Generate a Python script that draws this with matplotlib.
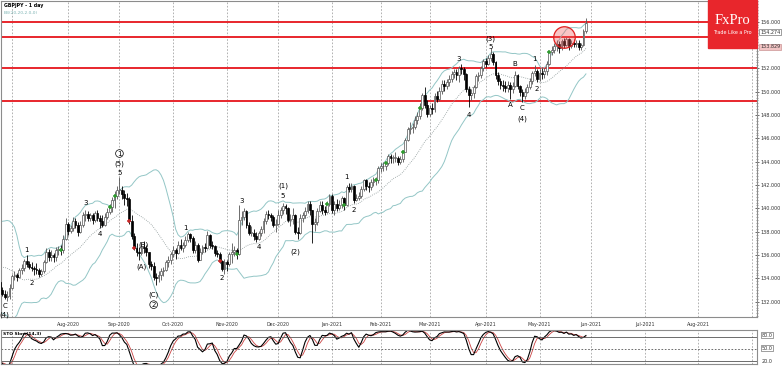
"""GBPJPY daily: candles, Bollinger bands, wave counts and a slow stochastic pane."""
import matplotlib
matplotlib.use("Agg")
import matplotlib.pyplot as plt
import matplotlib.transforms as mtransforms
from matplotlib.patches import Rectangle
from matplotlib.ticker import MultipleLocator
import numpy as np
import pandas as pd

FIRST_DAY = "2020-05-27"
HOLIDAYS = ["2020-12-25", "2021-01-01"]

# daily closes, one line per month (late May 2020 only feeds the bands)
closes = [
    132.5, 132.7, 132.8,
    133.8, 135.4, 136.6, 137.2, 138.6, 139.0, 137.8, 136.3, 134.4, 134.8, 134.6,
    135.2, 134.3, 133.2, 132.3, 133.4, 133.7, 133.0, 132.7, 132.4, 132.5, 133.2,
    134.2, 134.3, 134.1, 134.7, 134.9, 135.5, 135.2, 135.0, 134.9, 134.8, 134.7, 134.4,
    134.6, 135.4, 136.3, 135.8, 136.0, 135.8, 136.4, 136.5, 136.4, 137.4, 138.7,
    138.1, 138.3, 138.9, 138.6, 138.0, 138.6, 139.4, 139.5, 139.2, 139.4, 139.0,
    139.6, 139.2, 138.9, 138.6, 139.3, 139.7, 140.1, 140.7, 141.1, 141.6,
    141.6, 141.2, 140.9, 140.8, 138.9, 137.6, 136.6, 136.3, 136.2, 136.7, 136.6,
    136.3, 135.2, 135.1, 134.1, 134.0, 134.3, 134.6, 134.7, 135.4, 135.6, 136.1,
    136.4, 136.2, 136.9, 136.6, 136.9, 137.3, 137.8, 137.5, 136.4, 136.9, 135.6,
    136.3, 136.7, 136.6, 137.7, 136.9, 136.8, 136.2, 136.1, 135.5, 134.8, 135.4,
    135.2, 136.1, 136.3, 136.4, 136.1, 139.0, 139.3, 139.8, 138.6, 137.9, 137.9,
    137.6, 137.4, 137.9, 138.2, 138.9, 139.5, 139.4, 139.3, 138.6, 138.7,
    139.4, 139.9, 140.2, 140.0, 139.0, 139.1, 139.4, 138.0, 137.9, 139.2, 139.4,
    139.8, 140.4, 139.9, 138.7, 138.8, 139.8, 140.3, 139.9, 139.7, 140.4, 141.1,
    139.9, 140.4, 140.0, 140.3, 140.9, 140.3, 141.8, 141.7, 141.9, 140.7,
    140.9, 141.1, 141.7, 142.4, 141.9, 141.8, 142.3, 142.4, 142.4, 143.5,
    143.6, 143.6, 143.9, 144.5, 144.3, 144.3, 144.3, 144.0, 144.2, 144.8,
    145.9, 146.8, 146.9, 147.0, 147.6, 147.9, 148.6, 149.7, 148.9, 148.1,
    148.6, 148.5, 149.6, 149.4, 150.1, 150.7, 150.5, 150.8, 151.1, 151.5, 151.7,
    151.4, 152.0, 151.9, 151.5, 150.2, 149.7, 149.9, 150.4, 151.3, 151.4, 152.0, 152.6,
    152.4, 152.9, 153.2, 152.5, 151.4, 150.9, 150.6, 150.5, 150.3, 150.6, 150.2,
    150.5, 151.4, 150.5, 150.0, 149.6, 150.0, 150.4, 150.9, 151.6, 151.8, 151.1,
    151.6, 151.5, 151.8, 152.4, 153.4, 153.6, 153.9, 154.1, 153.7, 154.3,
    154.0, 154.5, 153.9, 154.2, 154.1, 154.2, 153.8, 154.0, 155.2, 155.9,
]
highs = [
    133.1, 133.2, 133.4,
    134.1, 135.6, 136.9, 137.6, 139.0, 139.7, 139.2, 138.0, 136.5, 135.2, 135.0,
    135.7, 135.3, 134.4, 133.4, 133.6, 134.2, 133.9, 133.3, 133.0, 132.9, 133.5,
    134.4, 134.6, 134.5, 134.9, 135.2, 135.7, 136.0, 135.5, 135.4, 135.1, 135.3, 134.9,
    134.8, 135.6, 136.6, 136.5, 136.4, 136.2, 136.7, 136.8, 136.9, 137.7, 139.2,
    138.8, 138.6, 139.3, 139.2, 138.8, 138.9, 139.7, 139.9, 139.8, 139.6, 139.6,
    139.8, 139.9, 139.4, 139.4, 139.6, 140.0, 140.4, 141.0, 141.5, 141.9,
    142.7, 141.9, 141.6, 141.3, 141.0, 139.4, 137.9, 137.0, 136.7, 137.0, 137.2,
    136.9, 136.3, 135.5, 135.4, 134.5, 134.6, 134.9, 135.0, 135.6, 135.9, 136.3,
    136.8, 136.6, 137.2, 137.4, 137.1, 137.6, 138.0, 137.9, 137.6, 137.2, 137.0,
    136.6, 136.9, 137.0, 138.1, 137.8, 137.2, 136.9, 136.4, 136.3, 135.6, 135.7,
    135.6, 136.3, 137.0, 136.8, 136.6, 140.3, 139.8, 140.0, 139.9, 138.8, 138.5,
    138.2, 138.0, 138.1, 138.5, 139.2, 139.8, 139.9, 139.6, 139.4, 139.1,
    139.9, 140.1, 140.5, 140.4, 140.1, 139.5, 140.0, 139.5, 138.4, 139.5, 139.7,
    140.1, 140.6, 140.6, 139.9, 139.2, 140.0, 140.6, 140.6, 140.2, 140.6, 141.2,
    141.2, 140.6, 140.8, 140.7, 141.1, 141.0, 142.0, 142.2, 142.2, 142.0,
    141.2, 141.4, 141.9, 142.5, 142.5, 142.3, 142.5, 142.7, 142.7, 143.6,
    143.9, 144.0, 144.0, 144.7, 144.7, 144.6, 144.8, 144.5, 144.5, 145.0,
    146.0, 147.0, 147.4, 147.3, 147.9, 148.3, 149.0, 149.9, 150.4, 149.3,
    148.9, 149.0, 149.9, 150.1, 150.4, 151.0, 151.0, 151.1, 151.4, 151.8, 151.9,
    151.9, 152.2, 152.4, 152.1, 151.6, 150.5, 150.2, 150.6, 151.5, 151.7, 152.2, 152.8,
    152.9, 153.1, 153.7, 153.4, 152.6, 151.7, 151.2, 151.0, 150.9, 150.9, 150.8,
    150.8, 151.8, 151.5, 150.6, 150.2, 150.3, 150.7, 151.2, 151.8, 152.3, 151.9,
    151.9, 152.0, 152.0, 152.6, 153.5, 153.9, 154.2, 154.4, 154.3, 154.5,
    154.6, 154.7, 154.6, 154.4, 154.5, 154.4, 154.4, 154.2, 155.4, 156.3,
]
lows = [
    131.9, 132.2, 132.1,
    132.7, 133.6, 135.2, 136.3, 137.0, 138.2, 137.5, 136.1, 134.1, 133.9, 133.6,
    134.4, 134.0, 132.8, 132.1, 132.2, 133.0, 132.7, 132.5, 132.2, 132.1, 132.2,
    133.1, 133.9, 133.8, 134.0, 134.4, 134.6, 135.0, 134.8, 134.6, 134.3, 134.4, 134.1,
    134.2, 134.5, 135.3, 135.5, 135.5, 135.4, 135.5, 136.0, 136.0, 136.2, 137.3,
    137.7, 137.9, 138.1, 138.3, 137.6, 137.9, 138.4, 138.9, 138.9, 138.9, 138.7,
    138.8, 138.9, 138.3, 138.4, 138.5, 139.1, 139.5, 139.7, 140.0, 140.8,
    141.2, 140.8, 140.3, 140.2, 138.7, 137.4, 136.4, 135.9, 135.6, 136.0, 136.2,
    135.9, 134.9, 134.7, 133.9, 133.4, 133.7, 133.9, 134.2, 134.6, 135.0, 135.2,
    135.8, 135.7, 136.1, 136.4, 136.3, 136.7, 137.1, 137.1, 136.2, 136.2, 135.4,
    135.6, 136.1, 136.3, 136.5, 136.6, 136.5, 135.9, 135.8, 135.3, 134.6, 134.4,
    134.6, 135.1, 135.3, 135.9, 135.7, 136.0, 138.6, 139.0, 138.3, 137.7, 137.6,
    137.3, 137.1, 137.3, 137.6, 137.9, 138.7, 139.1, 138.9, 138.4, 138.0,
    138.6, 139.2, 139.5, 139.5, 138.8, 138.5, 138.7, 137.8, 137.4, 137.8, 138.8,
    139.2, 139.6, 139.4, 137.0, 138.1, 138.6, 139.7, 139.5, 139.4, 139.6, 140.2,
    139.6, 139.4, 139.8, 139.9, 140.0, 139.9, 140.2, 141.4, 141.4, 140.5,
    140.6, 140.7, 140.9, 141.5, 141.6, 141.4, 141.6, 141.9, 142.0, 142.2,
    143.1, 143.2, 143.3, 143.7, 143.9, 143.9, 144.0, 143.7, 143.8, 144.0,
    144.8, 145.8, 146.4, 146.5, 146.8, 147.2, 147.7, 148.4, 148.6, 147.8,
    147.9, 148.1, 148.3, 149.1, 149.2, 149.8, 150.1, 150.2, 150.5, 150.8, 151.2,
    151.0, 150.8, 151.5, 151.0, 150.0, 148.7, 149.3, 149.5, 150.3, 150.9, 151.2, 151.8,
    152.1, 152.3, 152.6, 152.3, 151.1, 150.6, 150.2, 150.1, 150.0, 150.0, 149.4,
    149.9, 150.4, 150.2, 149.6, 149.1, 149.4, 149.9, 150.2, 150.7, 151.3, 150.8,
    150.9, 151.1, 151.2, 151.4, 152.3, 153.1, 153.3, 153.5, 153.3, 153.6,
    153.7, 153.9, 153.6, 153.7, 153.8, 153.8, 153.6, 153.6, 153.9, 155.0,
]

levels = [156.0, 154.7, 152.0, 149.2]
axis_prices = [132, 134, 136, 138, 140, 142, 144, 146, 148, 150, 152, 156]
box_labels = ["154.274", "153.829"]
box_prices = [155.1, 153.83]

# wave counts: text, day, price, circled
waves = [
    ("C", "2020-06-26", 131.6, False), ("(4)", "2020-06-26", 130.85, False),
    ("1", "2020-07-09", 136.4, False), ("2", "2020-07-13", 133.6, False),
    ("3", "2020-08-12", 140.5, False), ("4", "2020-08-20", 137.8, False),
    ("1", "2020-09-01", 144.7, True), ("(5)", "2020-09-01", 143.8, False),
    ("5", "2020-09-01", 143.0, False), ("(B)", "2020-09-15", 136.9, False),
    ("(A)", "2020-09-14", 135.0, False), ("(C)", "2020-09-21", 132.6, False),
    ("2", "2020-09-21", 131.75, True), ("1", "2020-10-08", 138.3, False),
    ("2", "2020-10-29", 134.0, False), ("3", "2020-11-10", 140.65, False),
    ("4", "2020-11-19", 136.7, False), ("(1)", "2020-12-03", 141.9, False),
    ("5", "2020-12-03", 141.1, False), ("(2)", "2020-12-10", 136.3, False),
    ("1", "2021-01-12", 142.7, False), ("2", "2021-01-15", 139.9, False),
    ("3", "2021-03-17", 152.8, False), ("4", "2021-03-23", 148.0, False),
    ("(3)", "2021-04-05", 154.5, False), ("5", "2021-04-05", 153.8, False),
    ("B", "2021-04-19", 152.4, False), ("A", "2021-04-15", 148.9, False),
    ("C", "2021-04-22", 148.6, False), ("(4)", "2021-04-22", 147.7, False),
    ("1", "2021-04-29", 152.8, False), ("2", "2021-04-30", 150.2, False),
]
green_days = ["2020-07-29", "2020-08-26", "2020-08-28", "2020-11-06", "2020-12-30",
              "2021-01-11", "2021-01-28", "2021-02-03", "2021-02-12", "2021-02-23",
              "2021-05-07"]
red_days = ["2020-09-07", "2020-09-09", "2020-10-28"]
circle_day, circle_price = "2021-05-17", 154.7

W, H = 782, 366
RED = "#e8262c"
GRID = dict(color="#a5a5a5", ls=(0, (2, 2)), lw=0.6)
TICK_FS = 3.5


def main():
    dates = pd.bdate_range(FIRST_DAY, "2021-09-10")
    dates = dates[~dates.isin(pd.to_datetime(HOLIDAYS))]
    n = len(closes)
    assert len(highs) == n and len(lows) == n, (len(highs), len(lows), n)
    assert dates.get_loc(pd.Timestamp("2021-05-28")) == n - 1

    def idx(d):
        return dates.get_loc(pd.Timestamp(d))

    c = np.array(closes)
    o = np.r_[c[0], c[:-1]]
    h = np.maximum(np.array(highs), np.maximum(o, c))
    l = np.minimum(np.array(lows), np.minimum(o, c))
    x = np.arange(n)

    s = pd.Series(c)
    mid = s.rolling(20).mean()
    sd = s.rolling(20).std(ddof=0)
    hh = pd.Series(h).rolling(14).max()
    ll = pd.Series(l).rolling(14).min()
    slow_k = (100 * (s - ll) / (hh - ll)).rolling(3).mean()
    slow_d = slow_k.rolling(3).mean()

    fig = plt.figure(figsize=(W / 100, H / 100), dpi=100)

    def box(x0, y0, x1, y1):
        return [x0 / W, 1 - y1 / H, (x1 - x0) / W, (y1 - y0) / H]

    ax = fig.add_axes(box(1, 1, 757, 317))
    ax2 = fig.add_axes(box(1, 330, 757, 364))

    i0, i1 = idx("2020-07-01"), idx("2021-09-01")
    ppb = (752 - 12) / (i1 - i0)
    xlim = (i0 - 11 / ppb, i1 + 5 / ppb)

    months = pd.date_range("2020-07-01", "2021-09-01", freq="MS")
    mpos = dates.searchsorted(months)
    mlab = [m.strftime("%b-%Y") for m in months]
    mlab[0] = mlab[-1] = ""

    # --- price pane ---
    for lv in levels:
        ax.axhline(lv, color=RED, lw=1.4, zorder=2)
    ax.plot(x, mid + 2 * sd, color="#93c6c6", lw=0.7, zorder=2)
    ax.plot(x, mid - 2 * sd, color="#93c6c6", lw=0.7, zorder=2)
    ax.plot(x, mid, color="#8c9898", lw=0.6, ls=(0, (1, 1.5)), zorder=2)

    bull = c >= o
    for m, face, edge in [(bull, "white", "#555555"), (~bull, "black", "black")]:
        ax.vlines(x[m], l[m], h[m], color=edge, lw=0.6, zorder=3)
        body = np.maximum(np.abs(c - o)[m], 0.06)
        ax.bar(x[m], body, bottom=np.minimum(o, c)[m], width=0.75,
               color=face, edgecolor=edge, lw=0.5, zorder=4)

    gi = [idx(d) for d in green_days]
    ri = [idx(d) for d in red_days]
    ax.plot(gi, c[gi], "+", color="#2f9a2f", ms=3.5, mew=1.1, zorder=5)
    ax.plot(ri, c[ri], "+", color="#c82828", ms=3.5, mew=1.1, zorder=5)

    ax.scatter([idx(circle_day)], [circle_price], s=240, facecolor=(0.94, 0.35, 0.35, 0.35),
               edgecolor="#e02020", lw=0.9, zorder=6)

    for txt, d, p, circled in waves:
        kw = {}
        if circled:
            kw["bbox"] = dict(boxstyle="circle,pad=0.12", fc="white", ec="black", lw=0.5)
        ax.text(idx(d), p, txt, fontsize=5.0, ha="center", va="center", zorder=7, **kw)

    ax.set_xlim(*xlim)
    ax.set_ylim(130.69, 157.77)
    ax.set_xticks(mpos)
    ax.tick_params(axis="x", length=0, labelbottom=False)
    ax.grid(axis="x", **GRID)
    ax.yaxis.tick_right()
    ax.set_yticks(axis_prices)
    ax.set_yticklabels([f"{v:.3f}" for v in axis_prices])
    ax.yaxis.set_minor_locator(MultipleLocator(0.25))
    ax.tick_params(axis="y", which="major", labelsize=TICK_FS, length=2.5, width=0.5,
                   pad=1.2, colors="#333333", direction="inout")
    ax.tick_params(axis="y", which="minor", length=1.5, width=0.4, direction="inout",
                   colors="#555555")
    yx = mtransforms.blended_transform_factory(ax.transAxes, ax.transData)
    ax.text(1.004, box_prices[0], box_labels[0], transform=yx, fontsize=TICK_FS,
            va="center", color="#333333",
            bbox=dict(fc="white", ec="#555555", lw=0.4, pad=0.4), clip_on=False)
    ax.text(1.004, box_prices[1], box_labels[1], transform=yx, fontsize=TICK_FS,
            va="center", color="#333333",
            bbox=dict(fc="#f2c4c4", ec="#c08080", lw=0.4, pad=0.4), clip_on=False)

    # --- stochastic pane ---
    ax2.plot(x, slow_d, color="#cc4444", lw=0.6)
    ax2.plot(x, slow_k, color="black", lw=0.8)
    ax2.axhline(80, color="#555555", lw=0.6)
    ax2.axhline(50, color="#555555", lw=0.6, ls=(0, (2, 2)))
    ax2.axhline(20, color="#555555", lw=0.6)
    ax2.set_xlim(*xlim)
    ax2.set_ylim(11.75, 96.75)
    ax2.set_xticks(mpos)
    ax2.set_xticklabels(mlab)
    ax2.xaxis.set_ticks_position("top")
    ax2.tick_params(axis="x", length=0, labelsize=3.4, pad=2.0, colors="#333333")
    ax2.grid(axis="x", **GRID)
    ax2.set_yticks([])
    sx = mtransforms.blended_transform_factory(ax2.transAxes, ax2.transData)
    for val, lab in [(84, "80.0"), (51.5, "50.0")]:
        ax2.text(1.006, val, lab, transform=sx, fontsize=TICK_FS, va="center",
                 color="#333333", bbox=dict(fc="white", ec="#555555", lw=0.4, pad=0.4),
                 clip_on=False)
    ax2.text(1.006, 19, "20.0", transform=sx, fontsize=TICK_FS, va="center",
             color="#333333", clip_on=False)

    for a in (ax, ax2):
        for sp in a.spines.values():
            sp.set_color("#8c8c8c")
            sp.set_linewidth(0.8)

    fig.text(4 / W, 1 - 5 / H, "GBPJPY - 1 day", fontsize=3.4, fontweight="bold",
             va="center")
    fig.text(4 / W, 1 - 13 / H, "BB(20,20,2.0,0)", fontsize=3.2, color="#7fb5b5",
             va="center")
    fig.text(3 / W, 1 - 334 / H, "STO Slow(14,3)", fontsize=3.2, fontweight="bold",
             va="center")

    # logo
    fig.add_artist(Rectangle((708 / W, 1 - 48 / H), 49 / W, 48 / H,
                             transform=fig.transFigure, color=RED, zorder=10))
    fig.text(732 / W, 1 - 21 / H, "FxPro", color="white", fontsize=10.5,
             family="Liberation Serif", ha="center", va="center", zorder=11)
    fig.text(732 / W, 1 - 32 / H, "Trade Like a Pro", color="white", fontsize=3.5,
             ha="center", va="center", zorder=11)

    fig.savefig("out.png", dpi=100)


if __name__ == "__main__":
    main()
